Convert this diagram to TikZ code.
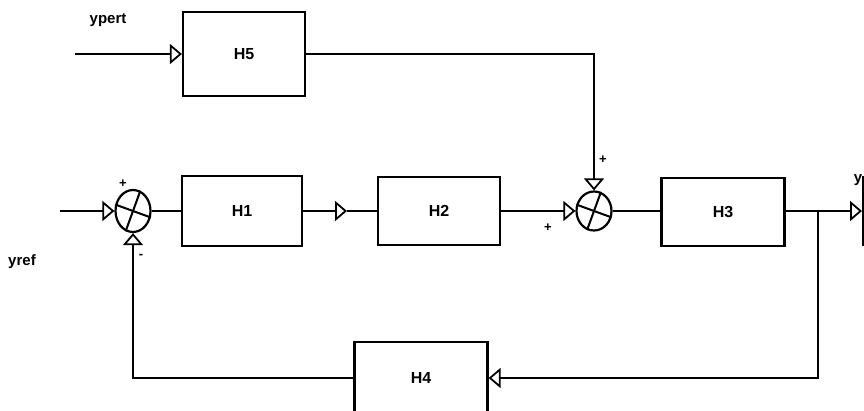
\documentclass[tikz,border=0pt]{standalone}
\usepackage{fontspec}
\setmainfont{Liberation Sans}
\usetikzlibrary{arrows.meta,calc,positioning,shapes.geometric}
\tikzset{
  bloque/.style={
    draw,
    line width=2.2pt,
    minimum width=122pt,
    minimum height=68pt,
    inner sep=0pt,
    font=\fontsize{16}{18}\selectfont\bfseries
  },
  sumador/.style={
    draw,
    ellipse,
    line width=2.2pt,
    minimum width=35pt,
    minimum height=41pt,
    inner sep=0pt
  },
  senal/.style={
    line width=2pt
  },
  flecha/.style={
    -{Triangle[open,length=12pt,width=20pt,line width=1.8pt]},
    line width=2pt
  },
  etiqueta/.style={
    inner sep=0pt,
    font=\fontsize{15}{17}\selectfont\bfseries
  },
  signo/.style={
    inner sep=0pt,
    font=\fontsize{13}{15}\selectfont\bfseries
  }
}
\begin{document}
\begin{tikzpicture}[x=1pt,y=-1pt]
\clip (0,0) rectangle (864,411);
\fill[white] (0,0) rectangle (864,411);
% bloques
\node[bloque,minimum height=84pt] (h5) at (244,54) {H5};
\node[bloque,minimum width=120pt,minimum height=70pt] (h1) at (242,211) {H1};
\node[bloque] (h2) at (439,211) {H2};
\node[bloque,minimum width=123pt] (h3) at (723,212) {H3};
\node[bloque,minimum width=133pt,minimum height=72pt] (h4) at (421,378) {H4};
\node[bloque,anchor=west] (salida) at (862,211) {};
% sumadores
\node[sumador,minimum height=42pt] (sum1) at (133,211) {};
\node[sumador,minimum height=39pt] (sum2) at (594,211) {};
\foreach \s in {sum1,sum2} {
  \draw[senal] (\s.160) -- (\s.-20);
  \draw[senal] (\s.70) -- (\s.250);
}
% puntos libres
\coordinate (yin) at (60,211);
\coordinate (pin) at (75,54);
\coordinate (m12) at (347,211);
\coordinate (rama) at (818,211);
% conexiones
\draw[flecha] (yin) -- (sum1);
\draw[senal] (sum1) -- (h1);
\draw[flecha] (h1) -- (m12);
\draw[senal] (m12) -- (h2);
\draw[flecha] (h2) -- (sum2);
\draw[senal] (sum2) -- (h3.west |- sum2);
\draw[senal] (h3.east |- rama) -- (rama);
\draw[flecha] (rama) -- (salida);
\draw[flecha] (pin) -- (h5);
\draw[flecha] (h5.east) -| (sum2.north);
\draw[flecha] (rama) |- (h4.east);
\draw[flecha] (h4.west) -| (sum1.south);
% etiquetas
\node[etiqueta] (lpert) at (108,20) {ypert};
\node[etiqueta] (lref) at (22,262) {yref};
\node[etiqueta] (lout) at (858,180) {y};
\node[signo] (p1) at (123,184) {+};
\node[signo] (n1) at (141,256) {-};
\node[signo] (p2) at (603,160) {+};
\node[signo] (p3) at (548,228) {+};
\end{tikzpicture}
\end{document}
